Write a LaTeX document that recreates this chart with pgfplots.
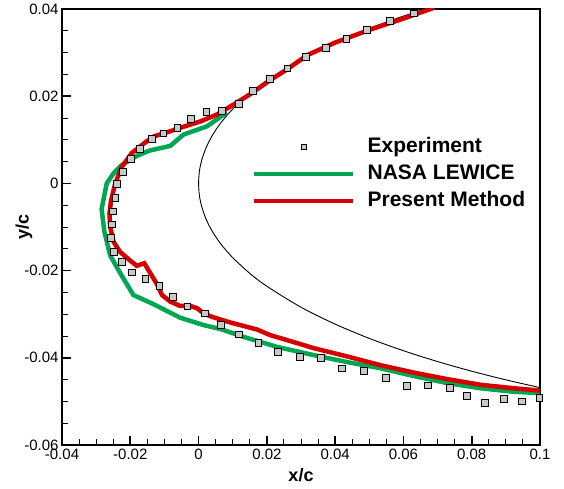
\documentclass[border=0pt]{standalone}
\usepackage{fontspec}
\setmainfont{Liberation Sans}
\usepackage{pgfplots}
\pgfplotsset{compat=1.18}
\definecolor{lgreen}{RGB}{0,166,81}
\definecolor{lred}{RGB}{214,0,0}
\definecolor{sqgray}{RGB}{200,200,200}
\pgfplotsset{
 lineleg/.style={legend image code/.code={\draw[##1, line width=4pt] (0pt,0pt) -- (99pt,0pt);}},
 markleg/.style={legend image code/.code={\draw[##1, mark size=2.5pt] plot coordinates {(50pt,0pt)};}},
}
\begin{document}
\begin{tikzpicture}
\begin{axis}[
 at={(0,0)}, anchor=south west,
 scale only axis, width=478pt, height=436pt,
 xmin=-0.04, xmax=0.1, ymin=-0.06, ymax=0.04,
 xtick={-0.04,-0.02,0,0.02,0.04,0.06,0.08,0.1},
 ytick={-0.06,-0.04,-0.02,0,0.02,0.04},
 minor x tick num=3, minor y tick num=3,
 tick pos=left, tick align=inside,
 major tick length=9pt, minor tick length=6pt,
 every major tick/.append style={line width=1.6pt, black},
 every minor tick/.append style={line width=0.9pt, black},
 axis line style={line width=2.4pt},
 scaled ticks=false,
 /pgf/number format/.cd, fixed, precision=3, assume math mode=true,
 /pgfplots/.cd,
 tick label style={font=\fontsize{15}{18}\selectfont},
 xlabel={x/c}, ylabel={y/c},
 label style={font=\bfseries\fontsize{18}{21}\selectfont},
 xlabel style={at={(axis description cs:0.5,0)}, anchor=center, yshift=-30pt},
 ylabel style={at={(axis description cs:0,0.5)}, anchor=center, rotate=0, yshift=38pt},
 legend style={draw=none, fill=none, at={(axis cs:0.0146,0.0113)}, anchor=north west,
   font=\bfseries\fontsize{21}{25}\selectfont, row sep=6pt, column sep=12pt,
   nodes={inner sep=1pt, text height=15pt, text depth=4pt}},
 legend cell align=left,
]
% airfoil (NACA 0012 leading edge)
\addplot[black, line width=0.9pt, smooth, forget plot] coordinates {
(0.1,0.046833)(0.09,0.045053)(0.08,0.043075)(0.07,0.040864)(0.06,0.038373)
(0.05,0.035547)(0.04,0.032277)(0.03,0.028402)(0.02,0.023596)(0.015,0.020636)
(0.01,0.017037)(0.007,0.014365)(0.0055,0.012789)(0.004,0.010961)(0.003,0.009530)
(0.002,0.007816)(0.001,0.005558)(0.0005,0.003946)(0.0002,0.002504)(0,0)
(0.0002,-0.002504)(0.0005,-0.003946)(0.001,-0.005558)(0.002,-0.007816)(0.003,-0.009530)
(0.004,-0.010961)(0.0055,-0.012789)(0.007,-0.014365)(0.01,-0.017037)(0.015,-0.020636)
(0.02,-0.023596)(0.03,-0.028402)(0.04,-0.032277)(0.05,-0.035547)(0.06,-0.038373)
(0.07,-0.040864)(0.08,-0.043075)(0.09,-0.045053)(0.1,-0.046833)};
% experiment
\addplot[only marks, mark=square*, mark size=3.4pt,
  mark options={fill=sqgray, draw=black, line width=0.7pt}, markleg]
coordinates {
(0.0631,0.0390)(0.0561,0.0372)(0.0494,0.0352)(0.0433,0.0331)(0.0372,0.0311)
(0.0314,0.0291)(0.0260,0.0264)(0.0209,0.0239)(0.0160,0.0213)(0.0117,0.0182)
(0.0069,0.0166)(0.0023,0.0164)(-0.0022,0.0148)(-0.0062,0.0128)(-0.0103,0.0115)
(-0.0138,0.0102)(-0.0171,0.0080)(-0.0198,0.0056)(-0.0222,0.0027)(-0.0239,-0.0001)
(-0.0244,-0.0034)(-0.0251,-0.0064)(-0.0255,-0.0094)(-0.0258,-0.0124)(-0.0249,-0.0157)
(-0.0225,-0.0180)(-0.0196,-0.0204)(-0.0156,-0.0219)(-0.0115,-0.0235)(-0.0076,-0.0261)
(-0.0033,-0.0282)(0.0018,-0.0298)(0.0065,-0.0325)(0.0119,-0.0346)(0.0175,-0.0365)
(0.0233,-0.0387)(0.0296,-0.0397)(0.0359,-0.0401)(0.0420,-0.0424)(0.0485,-0.0430)
(0.0548,-0.0446)(0.0609,-0.0465)(0.0672,-0.0463)(0.0737,-0.0468)(0.0786,-0.0487)
(0.0838,-0.0504)(0.0893,-0.0495)(0.0946,-0.0500)(0.0998,-0.0492)};
\addlegendentry{Experiment}
% NASA LEWICE
\addplot[lgreen, line width=4.5pt, lineleg]
coordinates {
(0.0083,0.0163)(0.0054,0.0147)(0.0025,0.0131)(-0.0044,0.0112)(-0.0083,0.0086)
(-0.0145,0.0075)(-0.0181,0.0063)(-0.0225,0.0042)(-0.0249,0.0023)(-0.0269,0.0000)
(-0.0284,-0.0059)(-0.0276,-0.0110)(-0.0259,-0.0165)(-0.0230,-0.0205)(-0.0191,-0.0256)
(-0.0132,-0.0277)(-0.0054,-0.0308)(0.0015,-0.0325)(0.0064,-0.0334)(0.0132,-0.0352)
(0.0230,-0.0375)(0.0338,-0.0394)(0.0436,-0.0410)(0.0533,-0.0424)(0.0631,-0.0442)
(0.0729,-0.0458)(0.0827,-0.0470)(0.0925,-0.0478)(0.1,-0.0481)};
\addlegendentry{NASA LEWICE}
% Present method
\addplot[lred, line width=4.5pt, lineleg]
coordinates {
(0.069,0.0403)(0.060,0.0378)(0.050,0.0352)(0.040,0.0323)(0.0318,0.0294)
(0.026,0.0262)(0.021,0.0237)(0.0152,0.0205)(0.0103,0.0181)(0.0054,0.0158)
(0.0005,0.0142)(-0.0044,0.0130)(-0.0093,0.0117)(-0.0130,0.0108)(-0.0156,0.0094)
(-0.0195,0.0070)(-0.0225,0.0038)(-0.0244,0.0000)(-0.0256,-0.0038)(-0.0261,-0.0069)
(-0.0259,-0.0099)(-0.0249,-0.0134)(-0.0230,-0.0157)(-0.0205,-0.0174)(-0.0181,-0.0189)
(-0.0159,-0.0183)(-0.0142,-0.0205)(-0.0122,-0.0231)(-0.0107,-0.0256)(-0.0083,-0.0271)
(-0.0054,-0.0281)(-0.0024,-0.0281)(-0.0005,-0.0286)(0.0015,-0.0298)(0.0039,-0.0306)
(0.0064,-0.0312)(0.0093,-0.0319)(0.0132,-0.0327)(0.0171,-0.0335)(0.0210,-0.0348)
(0.0279,-0.0364)(0.0338,-0.0378)(0.0436,-0.0397)(0.0533,-0.0417)(0.0631,-0.0434)
(0.0729,-0.0449)(0.0827,-0.0462)(0.0925,-0.0470)(0.1,-0.0475)};
\addlegendentry{Present Method}
\end{axis}
\pgfresetboundingbox
\path (-62pt,-43pt) rectangle (502pt,445pt);
\end{tikzpicture}
\end{document}
